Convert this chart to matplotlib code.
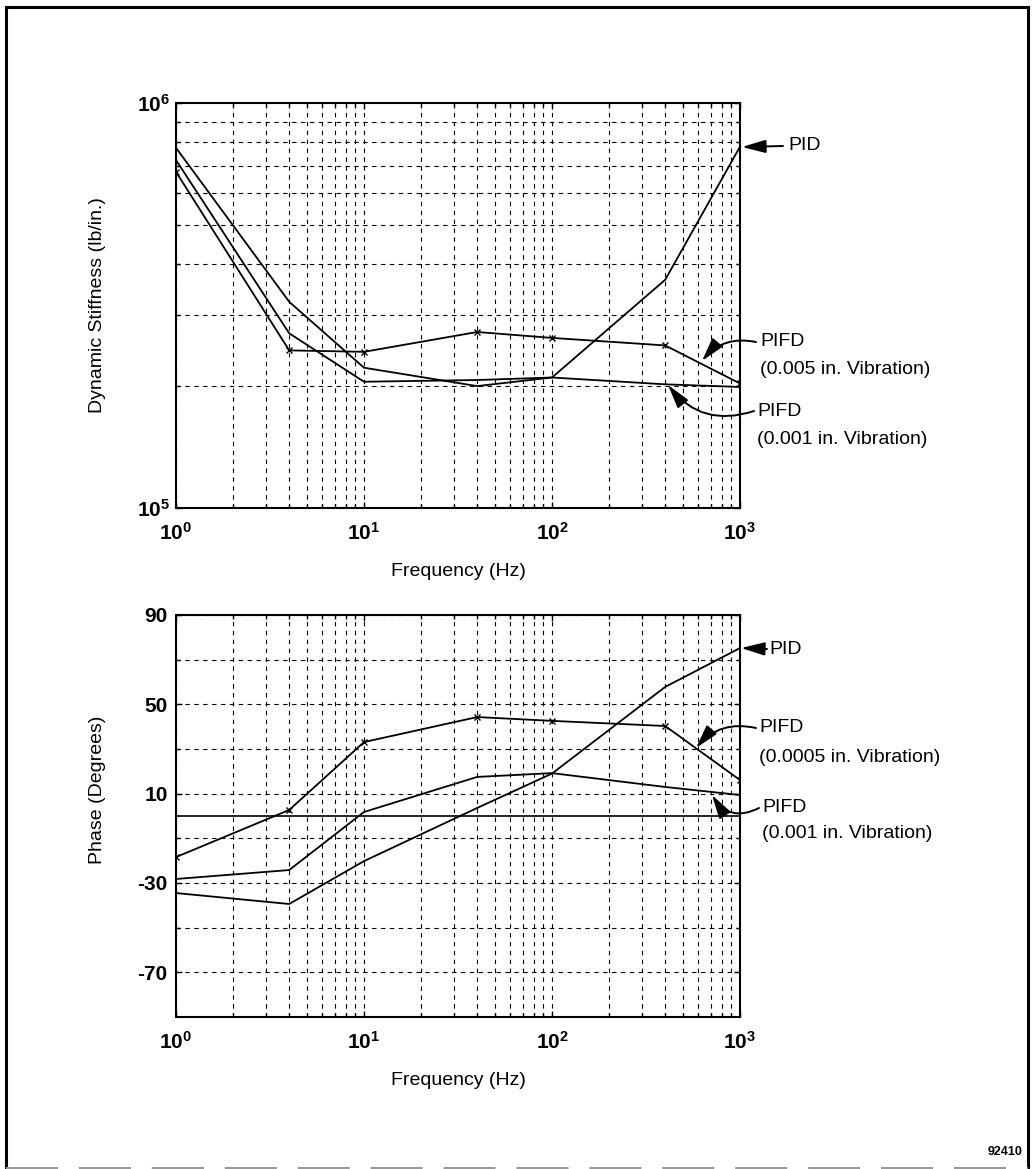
import matplotlib
matplotlib.use("Agg")
import matplotlib.pyplot as plt
from matplotlib.ticker import FixedLocator, NullFormatter, LogLocator
from matplotlib.lines import Line2D

plt.rcParams['font.family'] = ['Liberation Sans', 'DejaVu Sans']
plt.rcParams['mathtext.fontset'] = 'custom'
plt.rcParams['mathtext.rm'] = 'Liberation Sans'
plt.rcParams['mathtext.bf'] = 'Liberation Sans:bold'
plt.rcParams['mathtext.it'] = 'Liberation Sans:italic'
plt.rcParams['axes.unicode_minus'] = False

# ---- data ----
freq = [1, 4, 10, 40, 100, 400, 1000]
stiff_pid = [7.75e5, 3.23e5, 2.22e5, 2.00e5, 2.10e5, 3.66e5, 7.80e5]
stiff_pifd_001 = [7.23e5, 2.70e5, 2.05e5, 2.07e5, 2.10e5, 2.02e5, 1.99e5]
stiff_pifd_005 = [6.76e5, 2.45e5, 2.43e5, 2.72e5, 2.63e5, 2.52e5, 2.03e5]

phase_pid = [-34.5, -39.4, -20.2, 3.6, 19.0, 57.8, 75.2]
phase_pifd_001 = [-28.2, -24.2, 1.8, 17.5, 19.2, 13.0, 9.4]
phase_pifd_0005 = [-18.4, 2.7, 33.1, 44.3, 42.6, 40.3, 16.1]

phase_major = [90, 50, 10, -30, -70]
phase_minor = [70, 30, -10, -50]
x_tick_labels = [r'$\mathbf{10^{0}}$', r'$\mathbf{10^{1}}$', r'$\mathbf{10^{2}}$', r'$\mathbf{10^{3}}$']
stiff_tick_labels = [r'$\mathbf{10^{5}}$', r'$\mathbf{10^{6}}$']

W, H = 1032, 1169
fig = plt.figure(figsize=(W / 100, H / 100), dpi=100)

def px_axes(l, t, r, b):
    return fig.add_axes([l / W, 1 - b / H, (r - l) / W, (b - t) / H])

ax1 = px_axes(176, 103, 740, 508)
ax2 = px_axes(176, 615, 740, 1017)
for ax in (ax1, ax2):
    ax.patch.set_alpha(0)

grid_kw = dict(color='black', linewidth=0.8, linestyle=(0, (4, 4)))
line_kw = dict(color='black', linewidth=1.3)
FS_TICK = 15
FS_LAB = 14

for ax in (ax1, ax2):
    ax.set_xscale('log')
    ax.set_xlim(1, 1000)
    ax.xaxis.set_major_locator(FixedLocator([1, 10, 100, 1000]))
    ax.xaxis.set_minor_locator(LogLocator(base=10, subs=range(2, 10)))
    ax.xaxis.set_minor_formatter(NullFormatter())
    ax.set_xticklabels(x_tick_labels)
    ax.grid(True, which='both', axis='x', **grid_kw)
    ax.tick_params(which='both', direction='in', length=4, width=1, top=True, right=True,
                   labelsize=FS_TICK, pad=10)
    ax.tick_params(which='minor', length=3)
    for s in ax.spines.values():
        s.set_linewidth(1.5)
    ax.set_xlabel('Frequency (Hz)', fontsize=FS_LAB, labelpad=14)

# ---- top chart ----
ax1.set_yscale('log')
ax1.set_ylim(1e5, 1e6)
ax1.yaxis.set_major_locator(FixedLocator([1e5, 1e6]))
ax1.yaxis.set_minor_locator(LogLocator(base=10, subs=range(2, 10)))
ax1.yaxis.set_minor_formatter(NullFormatter())
ax1.set_yticklabels(stiff_tick_labels)
ax1.grid(True, which='minor', axis='y', **grid_kw)
ax1.tick_params(axis='y', pad=4)
ax1.plot(freq, stiff_pid, **line_kw)
ax1.plot(freq, stiff_pifd_001, **line_kw)
ax1.plot(freq, stiff_pifd_005, marker='x', markersize=5, markeredgewidth=1, **line_kw)
ax1.set_ylabel('Dynamic Stiffness (lb/in.)', fontsize=FS_LAB)
ax1.yaxis.set_label_coords(-0.125, 0.5)

# ---- bottom chart ----
ax2.set_ylim(-90, 90)
ax2.yaxis.set_major_locator(FixedLocator(phase_major))
ax2.yaxis.set_minor_locator(FixedLocator(phase_minor))
ax2.grid(True, which='both', axis='y', **grid_kw)
ax2.axhline(0, color='black', linewidth=1.2)
ax2.tick_params(axis='y', pad=6)
for t in ax2.get_yticklabels():
    t.set_fontweight('bold')
ax2.plot(freq, phase_pid, **line_kw)
ax2.plot(freq, phase_pifd_001, **line_kw)
ax2.plot(freq, phase_pifd_0005, marker='x', markersize=5, markeredgewidth=1, **line_kw)
ax2.set_ylabel('Phase (Degrees)', fontsize=FS_LAB)
ax2.yaxis.set_label_coords(-0.125, 0.565)

# ---- annotations (figure pixel coords, y measured from top) ----
def P(x, y):
    return (x, H - y)

def arrow(ax, start, tip, rad=0.0):
    ax.annotate('', xy=P(*tip), xycoords='figure pixels',
                xytext=P(*start), textcoords='figure pixels',
                arrowprops=dict(arrowstyle='-|>,head_length=0.9,head_width=0.25',
                                connectionstyle=f'arc3,rad={rad}',
                                color='black', lw=1.4, shrinkA=0, shrinkB=0,
                                mutation_scale=16),
                annotation_clip=False)

def label(x, y, s):
    fig.text(x / W, 1 - y / H, s, fontsize=FS_LAB, ha='left', va='center')

# top chart
label(788, 145, 'PID')
arrow(ax1, (783, 146), (742, 147))
label(760, 342, 'PIFD')
label(760, 370, '(0.005 in. Vibration)')
arrow(ax1, (756, 342), (702, 361), rad=0.3)
label(757, 411, 'PIFD')
label(757, 440, '(0.001 in. Vibration)')
arrow(ax1, (754, 411), (668, 385), rad=-0.35)

# bottom chart
label(769, 649, 'PID')
arrow(ax2, (767, 649), (741, 648))
label(759, 728, 'PIFD')
label(759, 757, '(0.0005 in. Vibration)')
arrow(ax2, (756, 728), (696, 748), rad=0.3)
label(762, 808, 'PIFD')
label(762, 834, '(0.001 in. Vibration)')
arrow(ax2, (759, 808), (712, 795), rad=-0.45)

# figure id
fig.text(1022 / W, 1 - 1152 / H, '92410', fontsize=9, fontweight='bold', ha='right', va='center')

# frame
frame_kw = dict(color='black', linewidth=2.2, transform=fig.transFigure)
fig.add_artist(Line2D([6 / W, 6 / W], [0, 1 - 7 / H], **frame_kw))
fig.add_artist(Line2D([6 / W, 1028 / W], [1 - 7 / H, 1 - 7 / H], **frame_kw))
fig.add_artist(Line2D([1028 / W, 1028 / W], [0, 1 - 7 / H], **frame_kw))
fig.add_artist(Line2D([6 / W, 1028 / W], [1.5 / H, 1.5 / H], color='0.6', linewidth=1.5,
                      linestyle=(0, (25, 10)), transform=fig.transFigure))

fig.savefig('out.png', dpi=100)
